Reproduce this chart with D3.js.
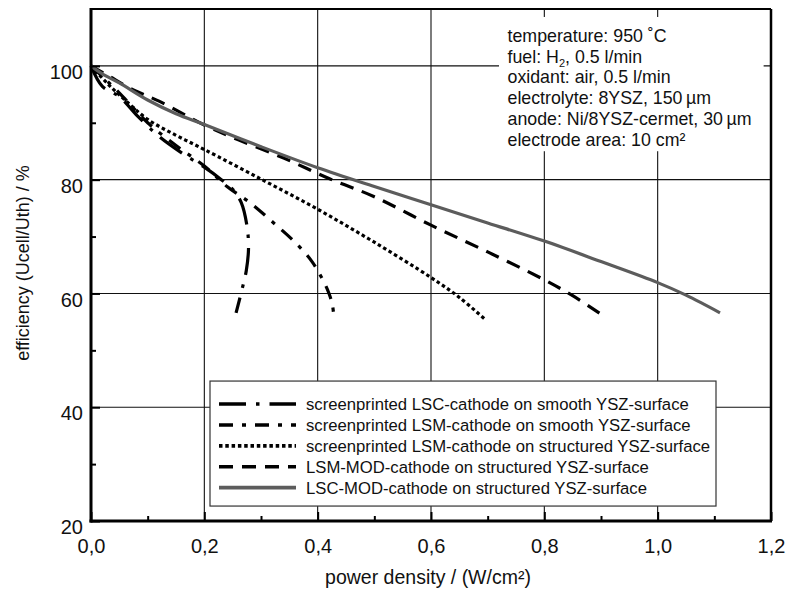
<!DOCTYPE html>
<html>
<head>
<meta charset="utf-8">
<title>efficiency vs power density</title>
<script src="https://cdn.jsdelivr.net/npm/d3@7"></script>
<style>
  body { margin: 0; background: #fff; }
  text { font-family: "Liberation Sans", Arial, Helvetica, sans-serif; fill: #111; }
</style>
</head>
<body>
<svg width="790" height="589" id="chart"></svg>
<script>
  // values: [power density W/cm2, efficiency %]
  const lscSmooth = [[0, 100], [0.02, 96.4], [0.05, 94.6], [0.08, 91.4], [0.12, 87.6], [0.16, 84.7], [0.2, 82.2],
    [0.23, 80.0], [0.25, 78.3], [0.265, 76.0], [0.275, 72.0], [0.278, 68.0], [0.274, 64.0], [0.266, 60.5], [0.256, 56.6]];
  const lsmSmooth = [[0, 100], [0.03, 97.2], [0.06, 94.2], [0.1, 90.0], [0.15, 86.0], [0.2, 82.4], [0.24, 78.8],
    [0.28, 76.0], [0.32, 72.6], [0.36, 69.0], [0.39, 65.6], [0.41, 62.2], [0.42, 60.0], [0.426, 58.0], [0.429, 55.4]];
  const lsmStructured = [[0, 100], [0.03, 96.8], [0.06, 94.0], [0.1, 90.6], [0.15, 87.8], [0.2, 85.3], [0.3, 80.1],
    [0.4, 74.8], [0.5, 69.0], [0.6, 62.8], [0.65, 59.3], [0.697, 55.3]];
  const lsmMod = [[0, 100], [0.03, 98.3], [0.07, 96.0], [0.12, 93.8], [0.2, 89.6], [0.26, 87.0], [0.34, 83.8],
    [0.42, 80.2], [0.5, 77.0], [0.6, 72.0], [0.7, 67.3], [0.8, 62.4], [0.85, 59.6], [0.91, 55.7]];
  const lscMod = [[0, 100], [0.02, 98.6], [0.05, 97.0], [0.1, 94.0], [0.15, 91.6], [0.2, 89.7], [0.3, 85.8],
    [0.4, 82.1], [0.5, 78.8], [0.6, 75.6], [0.7, 72.4], [0.8, 69.2], [0.9, 65.6], [1.0, 61.9], [1.05, 59.7], [1.11, 56.6]];

  const seriesNames = [
    'screenprinted LSC-cathode on smooth YSZ-surface',
    'screenprinted LSM-cathode on smooth YSZ-surface',
    'screenprinted LSM-cathode on structured YSZ-surface',
    'LSM-MOD-cathode on structured YSZ-surface',
    'LSC-MOD-cathode on structured YSZ-surface'
  ];
  const seriesData = [lscSmooth, lsmSmooth, lsmStructured, lsmMod, lscMod];
  const seriesDash = ['27,10,3.5,10', '14,9,4,9', '3.5,2.8', '14,9', null];
  const seriesColor = ['#000', '#000', '#000', '#000', '#5c5c5c'];

  const xTicks = [0, 0.2, 0.4, 0.6, 0.8, 1.0, 1.2];
  const xMinor = [0.1, 0.3, 0.5, 0.7, 0.9, 1.1];
  const yTicks = [20, 40, 60, 80, 100];
  const yMinor = [30, 50, 70, 90];

  const conditions = [
    ['temperature: 950 \u02daC'],
    ['fuel: H', '2', ', 0.5 l/min'],
    ['oxidant: air, 0.5 l/min'],
    ['electrolyte: 8YSZ, 150\u2009\u00b5m'],
    ['anode: Ni/8YSZ-cermet, 30\u2009\u00b5m'],
    ['electrode area: 10 cm\u00b2']
  ];

  const svg = d3.select('#chart');
  const margin = { top: 9, right: 19, bottom: 68, left: 91 };
  const width = +svg.attr('width');
  const height = +svg.attr('height');
  const innerWidth = width - margin.left - margin.right;
  const innerHeight = height - margin.top - margin.bottom;
  const g = svg.append('g').attr('transform', `translate(${margin.left},${margin.top})`);

  const xScale = d3.scaleLinear().domain([0, 1.2]).range([0, innerWidth]);
  const yScale = d3.scaleLinear().domain([20, 110]).range([innerHeight, 0]);

  // grid
  g.append('g').selectAll('line')
    .data(xTicks.slice(1, -1))
    .join('line')
    .attr('x1', d => xScale(d)).attr('x2', d => xScale(d))
    .attr('y1', 0).attr('y2', innerHeight)
    .attr('stroke', '#111').attr('stroke-width', 1.1);
  g.append('g').selectAll('line')
    .data(yTicks.slice(1))
    .join('line')
    .attr('x1', 0).attr('x2', innerWidth)
    .attr('y1', d => yScale(d)).attr('y2', d => yScale(d))
    .attr('stroke', '#111').attr('stroke-width', 1.1);

  // white box behind the test conditions
  g.append('rect')
    .attr('x', xScale(0.72)).attr('y', yScale(108.6))
    .attr('width', xScale(1.187) - xScale(0.72))
    .attr('height', yScale(85) - yScale(108.6))
    .attr('fill', '#fff');

  const cond = g.append('g')
  cond.selectAll('text')
    .data(conditions)
    .join('text')
    .attr('x', xScale(0.735))
    .attr('y', (d, i) => 33 + i * 20.7)
    .attr('font-size', 17.8)
    .each(function (parts) {
      const t = d3.select(this);
      t.append('tspan').text(parts[0]);
      if (parts.length > 1) {
        t.append('tspan').attr('font-size', 11).attr('dy', 4).text(parts[1]);
        t.append('tspan').attr('dy', -4).text(parts[2]);
      }
    });

  // curves
  const line = d3.line()
    .x(d => xScale(d[0]))
    .y(d => yScale(d[1]))
    .curve(d3.curveCatmullRom.alpha(0.5));

  g.append('g').selectAll('path')
    .data(seriesData)
    .join('path')
    .attr('d', d => line(d))
    .attr('fill', 'none')
    .attr('stroke', (d, i) => seriesColor[i])
    .attr('stroke-width', 3.2)
    .attr('stroke-dasharray', (d, i) => seriesDash[i]);

  // axes with inward ticks
  const fmt = d => d3.format('.1f')(d).replace('.', ',');
  g.append('g')
    .attr('transform', `translate(0,${innerHeight})`)
    .call(d3.axisBottom(xScale).tickValues(xTicks).tickSizeInner(-9).tickSizeOuter(0).tickPadding(18).tickFormat(fmt));
  g.append('g')
    .attr('transform', `translate(0,${innerHeight})`)
    .call(d3.axisBottom(xScale).tickValues(xMinor).tickSizeInner(-5).tickSizeOuter(0))
    .selectAll('text').remove();
  const yAxis = g.append('g')
    .call(d3.axisLeft(yScale).tickValues(yTicks).tickSizeInner(-9).tickSizeOuter(0).tickPadding(8));
  g.append('g')
    .call(d3.axisLeft(yScale).tickValues(yMinor).tickSizeInner(-5).tickSizeOuter(0))
    .selectAll('text').remove();

  g.selectAll('.domain').remove();
  g.selectAll('.tick line').attr('stroke', '#000').attr('stroke-width', 2);
  g.selectAll('.tick text').attr('font-size', 20).attr('fill', '#111')
    .style('font-family', '"Liberation Sans", Arial, Helvetica, sans-serif');
  yAxis.selectAll('.tick text').attr('dy', '0.63em');

  // frame
  const frame = g.append('g').attr('stroke', '#000').attr('fill', 'none');
  frame.append('line').attr('x1', 0).attr('x2', innerWidth).attr('y1', 0).attr('y2', 0).attr('stroke-width', 2);
  frame.append('line').attr('x1', innerWidth).attr('x2', innerWidth).attr('y1', 0).attr('y2', innerHeight).attr('stroke-width', 2.5);
  frame.append('line').attr('x1', 0).attr('x2', 0).attr('y1', -1).attr('y2', innerHeight + 1.5).attr('stroke-width', 3);
  frame.append('line').attr('x1', -1.5).attr('x2', innerWidth + 1).attr('y1', innerHeight).attr('y2', innerHeight).attr('stroke-width', 3);

  // legend
  const legend = g.append('g').attr('transform', `translate(${xScale(0.21)},${yScale(44.6)})`);
  legend.append('rect')
    .attr('width', 506).attr('height', 125)
    .attr('fill', '#fff').attr('stroke', '#333').attr('stroke-width', 1.2);
  const rows = legend.selectAll('g.row')
    .data(seriesNames)
    .join('g')
    .attr('class', 'row')
    .attr('transform', (d, i) => `translate(0,${23 + i * 20.9})`);
  rows.append('line')
    .attr('x1', 9).attr('x2', 86)
    .attr('stroke', (d, i) => seriesColor[i])
    .attr('stroke-width', 3.6)
    .attr('stroke-dasharray', (d, i) => seriesDash[i]);
  rows.append('text')
    .attr('x', 96).attr('y', 6)
    .attr('font-size', 16.7)
    .text(d => d);

  // axis titles
  svg.append('text')
    .attr('x', margin.left + innerWidth / 2 - 3)
    .attr('y', 584)
    .attr('text-anchor', 'middle')
    .attr('font-size', 19.5)
    .text('power density / (W/cm\u00b2)');
  svg.append('text')
    .attr('transform', 'translate(29,263) rotate(-90)')
    .attr('text-anchor', 'middle')
    .attr('font-size', 18)
    .text('efficiency (Ucell/Uth) / %');
</script>
</body>
</html>
